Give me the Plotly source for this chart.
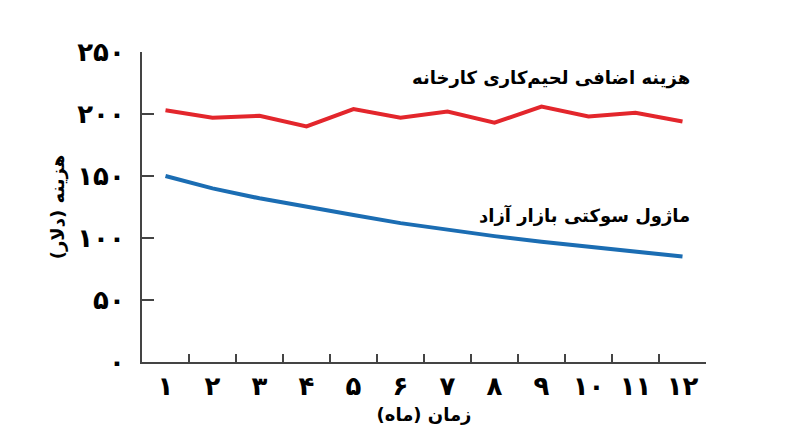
import plotly.graph_objects as go

months = list(range(1, 13))
month_labels = ["۱", "۲", "۳", "۴", "۵", "۶", "۷", "۸", "۹", "۱۰", "۱۱", "۱۲"]
factory_cost = [203, 197, 198.5, 190, 204, 197, 202, 193, 206, 198, 201, 194]
market_cost = [150, 140, 132, 125, 118.5, 112, 106.5, 101.5, 97, 93, 89, 85]
y_vals = [0, 50, 100, 150, 200, 250]
y_labels = ["۰", "۵۰", "۱۰۰", "۱۵۰", "۲۰۰", "۲۵۰"]

font = "DejaVu Sans"

fig = go.Figure()
fig.add_trace(go.Scatter(x=months, y=factory_cost, mode="lines",
                         line=dict(color="#e3262c", width=4)))
fig.add_trace(go.Scatter(x=months, y=market_cost, mode="lines",
                         line=dict(color="#1b6db3", width=4)))

fig.add_annotation(x=12.2, y=229, text="<b>هزینه اضافی لحیم‌کاری کارخانه</b>", showarrow=False,
                   xanchor="right", font=dict(family=font, size=18, color="black"))
fig.add_annotation(x=12.2, y=118, text="<b>ماژول سوکتی بازار آزاد</b>", showarrow=False,
                   xanchor="right", font=dict(family=font, size=18, color="black"))

fig.update_layout(
    width=800, height=447,
    plot_bgcolor="white", paper_bgcolor="white",
    showlegend=False,
    margin=dict(l=134, r=102, t=44, b=93),
    font=dict(family=font, color="black"),
)
fig.update_xaxes(
    range=[0.5, 12.5], tickmode="array", tickvals=months,
    ticktext=["<b>" + t + "</b>" for t in month_labels],
    ticks="", showline=True, linecolor="#444", linewidth=2, showgrid=False,
    zeroline=False, tickfont=dict(size=26, family=font),
    minor=dict(ticks="inside", tickvals=[m + 0.5 for m in months[:-1]],
               ticklen=8, tickcolor="#444", tickwidth=2, showgrid=False),
    title=dict(text="<b>زمان (ماه)</b>", font=dict(size=18, family=font), standoff=8),
)
fig.update_yaxes(
    range=[0, 250], tickmode="array", tickvals=y_vals,
    ticktext=["<b>" + t + "</b>" for t in y_labels],
    ticks="inside", ticklen=12, tickcolor="#444", tickwidth=1.5,
    showline=True, linecolor="#444", linewidth=2, showgrid=False, zeroline=False,
    tickfont=dict(size=26, family=font), ticklabelstandoff=10,
    title=dict(text="<b>هزینه (دلار)</b>", font=dict(size=18, family=font), standoff=8),
)

fig.write_html("out.html")
